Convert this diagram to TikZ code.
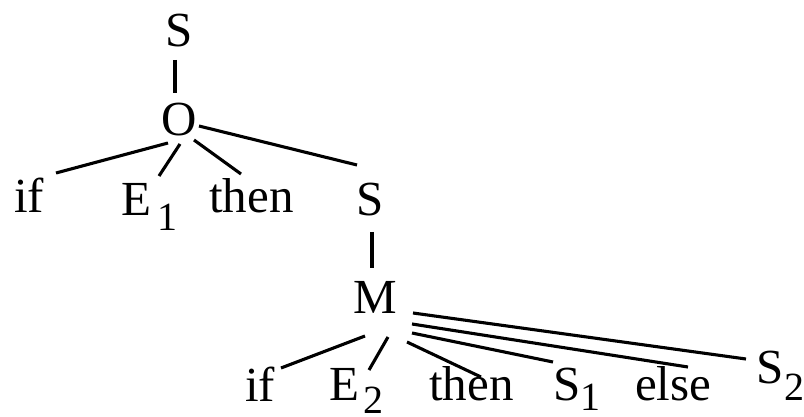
\documentclass[tikz,border=0pt]{standalone}
\usepackage{fontspec}
\setmainfont{Liberation Serif}
\newcommand\mysub[3]{\hspace{#1pt}\raisebox{-#2pt}{\fontsize{40}{40}\selectfont #3}}
\begin{document}
\begin{tikzpicture}[x=1pt,y=-1pt,
  lbl/.style={inner sep=0pt,anchor=base west,font=\fontsize{49}{49}\selectfont},
  edge/.style={line width=3.1pt}]
\useasboundingbox (0,0) rectangle (804,417);
\node[lbl] (s0) at (165,47) {S};
\node[lbl] (o) at (161,136) {O};
\node[lbl] (if1) at (14,213) {if};
\node[lbl] (e1) at (121,215) {E\mysub{6.6}{15}{1}};
\node[lbl] (then1) at (209,213) {then};
\node[lbl] (s1) at (356,215) {S};
\node[lbl] (m) at (353,313) {M};
\node[lbl] (if2) at (245,401) {if};
\node[lbl] (e2) at (329,400) {E\mysub{4.8}{13}{2}};
\node[lbl] (then2) at (429,400) {then};
\node[lbl] (s1b) at (553,400) {S\mysub{0}{10}{1}};
\node[lbl] (else) at (635,400) {else};
\node[lbl] (s2) at (756,383) {S\mysub{1.5}{17}{2}};

\draw[edge] ([shift={(10,13)}]s0.base west) -- ([shift={(14,-43)}]o.base west);
\draw[edge] ([shift={(7,7)}]o.base west) -- ([shift={(42,-40)}]if1.base west);
\draw[edge] ([shift={(19,8)}]o.base west) -- ([shift={(38,-39)}]e1.base west);
\draw[edge] ([shift={(33,4)}]o.base west) -- ([shift={(32,-39)}]then1.base west);
\draw[edge] ([shift={(38,-10)}]o.base west) -- ([shift={(1,-50)}]s1.base west);
\draw[edge] ([shift={(16,17)}]s1.base west) -- ([shift={(19,-45)}]m.base west);
\draw[edge] ([shift={(12,23)}]m.base west) -- ([shift={(36,-33)}]if2.base west);
\draw[edge] ([shift={(35,24)}]m.base west) -- ([shift={(40,-30)}]e2.base west);
\draw[edge] ([shift={(54,29)}]m.base west) -- ([shift={(52,-23)}]then2.base west);
\draw[edge] ([shift={(59,20)}]m.base west) -- ([shift={(0,-38)}]s1b.base west);
\draw[edge] ([shift={(59,11)}]m.base west) -- ([shift={(53,-33)}]else.base west);
\draw[edge] ([shift={(60,0)}]m.base west) -- ([shift={(-10,-24)}]s2.base west);
\end{tikzpicture}
\end{document}
